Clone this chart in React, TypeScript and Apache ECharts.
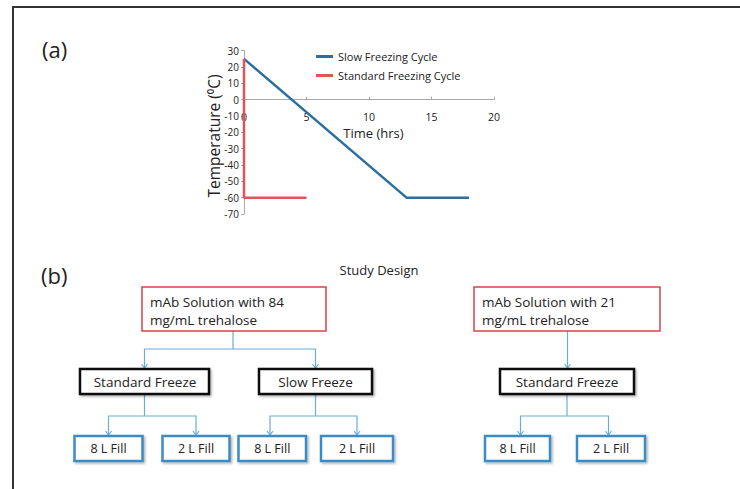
import React, { useEffect, useRef } from "react";
import * as echarts from "echarts";

const seriesNames = ["Slow Freezing Cycle", "Standard Freezing Cycle"];
const slowTime = [0, 13, 18];
const slowTemp = [25, -60, -60];
const stdTime = [0, 0, 5];
const stdTemp = [25, -60, -60];
const xTicks = [0, 5, 10, 15, 20];
const yTicks = [-70, -60, -50, -40, -30, -20, -10, 0, 10, 20, 30];

const solutionLabels = ["mAb Solution with 84\nmg/mL trehalose", "mAb Solution with 21\nmg/mL trehalose"];
const freezeLabels = ["Standard Freeze", "Slow Freeze", "Standard Freeze"];
const fillLabels = ["8 L Fill", "2 L Fill", "8 L Fill", "2 L Fill", "8 L Fill", "2 L Fill"];

const FONT = "'Open Sans', 'Noto Sans', sans-serif";
const CONN = "#6aaed6";

const GRID_TOP = 50.7;
const GRID_H = 163.3;

function arrow(x: number, y: number) {
  return {
    type: "polyline",
    shape: { points: [[x - 3, y - 4], [x, y], [x + 3, y - 4]] },
    style: { stroke: CONN, lineWidth: 1.2, fill: null },
  };
}
function line(points: number[][]) {
  return { type: "polyline", shape: { points }, style: { stroke: CONN, lineWidth: 1.2, fill: null } };
}
function box(x: number, y: number, w: number, h: number, stroke: string, lw: number, shadow: boolean) {
  return {
    type: "rect",
    shape: { x, y, width: w, height: h },
    style: {
      fill: "#fff",
      stroke,
      lineWidth: lw,
      shadowBlur: shadow ? 2 : 0,
      shadowOffsetX: shadow ? 1.5 : 0,
      shadowOffsetY: shadow ? 1.5 : 0,
      shadowColor: "rgba(0,0,0,0.3)",
    },
  };
}
function ctext(x: number, y: number, t: string, size = 13.5, align = "center") {
  return {
    type: "text",
    x,
    y,
    style: { text: t, fill: "#222", font: `${size}px ${FONT}`, textAlign: align, textVerticalAlign: "middle", lineHeight: 18 },
  };
}

export default function App() {
  const ref = useRef<HTMLDivElement>(null);
  useEffect(() => {
    if (!ref.current) return;
    const chart = echarts.init(ref.current, null, { renderer: "svg" });

    const fillBoxes = [
      [74.5, 68],
      [162.5, 67],
      [238.5, 67.5],
      [321, 72],
      [485, 65],
      [577, 68],
    ];

    const yMin = yTicks[0];
    const yMax = yTicks[yTicks.length - 1];
    const zeroOffset = -(GRID_H * (0 - yMin)) / (yMax - yMin);

    const graphics: any[] = [
      { type: "polyline", shape: { points: [[13, 495], [13, 7], [745, 7]] }, style: { stroke: "#333", lineWidth: 2, fill: null } },
      { type: "text", x: 42, y: 49, style: { text: "(a)", fill: "#222", font: `22px ${FONT}`, textVerticalAlign: "middle" } },
      { type: "text", x: 41, y: 275, style: { text: "(b)", fill: "#222", font: `22px ${FONT}`, textVerticalAlign: "middle" } },
      { type: "text", x: 379, y: 270, style: { text: "Study Design", fill: "#222", font: `13px ${FONT}`, textAlign: "center", textVerticalAlign: "middle" } },
      { type: "text", x: 373.5, y: 133, style: { text: "Time (hrs)", fill: "#222", font: `13px ${FONT}`, textAlign: "center", textVerticalAlign: "middle" } },
      {
        type: "text",
        x: 213.5,
        y: 136,
        rotation: Math.PI / 2,
        style: { text: "Temperature (\u2070C)", fill: "#222", font: `15.5px ${FONT}`, textAlign: "center", textVerticalAlign: "middle" },
      },
      line([[233, 331], [233, 349]]),
      line([[144.5, 368], [144.5, 349], [315.5, 349], [315.5, 368]]),
      arrow(144.5, 368),
      arrow(315.5, 368),
      line([[144.5, 394], [144.5, 416]]),
      line([[108.5, 435], [108.5, 416], [196, 416], [196, 435]]),
      arrow(108.5, 435),
      arrow(196, 435),
      line([[315.5, 394], [315.5, 416]]),
      line([[270, 435], [270, 416], [357, 416], [357, 435]]),
      arrow(270, 435),
      arrow(357, 435),
      line([[567.5, 331], [567.5, 368]]),
      arrow(567.5, 368),
      line([[567, 394], [567, 416]]),
      line([[520.5, 435], [520.5, 416], [608.5, 416], [608.5, 435]]),
      arrow(520.5, 435),
      arrow(608.5, 435),
      box(142, 287, 184, 44, "#d9434a", 1.5, false),
      ctext(150, 311, solutionLabels[0], 13.5, "left"),
      box(474, 287, 186, 44, "#d9434a", 1.5, false),
      ctext(482, 311, solutionLabels[1], 13.5, "left"),
      box(80, 369, 129, 25, "#111", 2.5, true),
      ctext(145, 381.5, freezeLabels[0]),
      box(259, 369, 113, 25, "#111", 2.5, true),
      ctext(315.5, 381.5, freezeLabels[1]),
      box(500, 369, 134, 25, "#111", 2.5, true),
      ctext(567, 381.5, freezeLabels[2]),
    ];
    fillBoxes.forEach(([x, w], i) => {
      graphics.push(box(x, 436, w, 25, "#3a8cc4", 2.5, true));
      graphics.push(ctext(x + w / 2, 448.5, fillLabels[i], 12.5));
    });

    chart.setOption({
      animation: false,
      textStyle: { fontFamily: FONT },
      legend: {
        orient: "vertical",
        left: 316,
        top: 50.5,
        padding: 0,
        itemWidth: 17,
        itemHeight: 3,
        itemGap: 7,
        icon: "rect",
        textStyle: { fontSize: 11, color: "#222", lineHeight: 12 },
        data: seriesNames,
      },
      grid: { left: 244, top: GRID_TOP, width: 250, height: GRID_H, containLabel: false },
      xAxis: {
        type: "value",
        min: xTicks[0],
        max: xTicks[xTicks.length - 1],
        interval: 5,
        position: "bottom",
        offset: zeroOffset,
        axisLine: { onZero: false, lineStyle: { color: "#aaa", width: 1 } },
        axisTick: { show: true, length: 3, inside: true, lineStyle: { color: "#aaa" } },
        axisLabel: { fontSize: 10.5, color: "#222", margin: 12 },
        splitLine: { show: false },
      },
      yAxis: {
        type: "value",
        min: yMin,
        max: yMax,
        interval: 10,
        axisLine: { show: true, lineStyle: { color: "#aaa", width: 1 } },
        axisTick: { show: true, length: 3, lineStyle: { color: "#aaa" } },
        axisLabel: { fontSize: 10, color: "#222", margin: 5 },
        splitLine: { show: false },
      },
      series: [
        {
          name: seriesNames[0],
          type: "line",
          data: slowTime.map((t, i) => [t, slowTemp[i]]),
          showSymbol: false,
          symbol: "none",
          lineStyle: { color: "#2a6fa0", width: 2.5 },
          itemStyle: { color: "#2a6fa0" },
        },
        {
          name: seriesNames[1],
          type: "line",
          data: stdTime.map((t, i) => [t, stdTemp[i]]),
          showSymbol: false,
          symbol: "none",
          lineStyle: { color: "#e0545a", width: 2.5 },
          itemStyle: { color: "#e0545a" },
        },
      ],
      graphic: graphics,
    });
    return () => chart.dispose();
  }, []);
  return <div ref={ref} style={{ position: "fixed", left: 0, top: 0, width: 740, height: 489, background: "#fff" }} />;
}
